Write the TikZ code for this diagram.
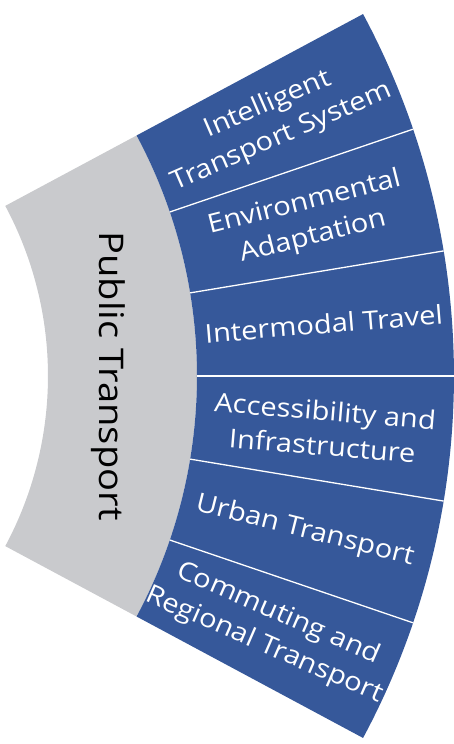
\documentclass[tikz,border=0pt]{standalone}
\usepackage{fontspec}
\setmainfont[FakeStretch=1.12]{Open Sans}
\definecolor{ptblue}{RGB}{54,88,154}
\definecolor{ptgray}{RGB}{201,202,205}
\tikzset{
  field/.style={text=white, align=center, font=\fontsize{26}{35}\selectfont},
  divider/.style={draw=white, line width=1.3pt}
}
\begin{document}
\begin{tikzpicture}[x=1pt,y=1pt]
\useasboundingbox (312,-368) rectangle (766,376);
% inner gray band
\path[fill=ptgray] (28.2:360) arc (28.2:-28.2:360) -- (-28.2:509) arc (-28.2:28.2:509) -- cycle;
% outer blue band
\path[fill=ptblue] (28.2:509) arc (28.2:-28.2:509) -- (-28.2:766) arc (-28.2:28.2:766) -- cycle;
\path[divider] (18.8:509) -- (18.8:766);
\path[divider] (9.4:509) -- (9.4:766);
\path[divider] (0:509) -- (0:766);
\path[divider] (-9.4:509) -- (-9.4:766);
\path[divider] (-18.8:509) -- (-18.8:766);
\node[rotate=-90, font=\fontsize{34}{40}\selectfont] (public) at (0:420) {Public Transport};
\node[field, rotate=23.5] (its) at (23.5:640) {Intelligent\\Transport System};
\node[field, rotate=14.1] (env) at (14.1:640) {Environmental\\Adaptation};
\node[field, rotate=4.7] (inter) at (4.7:638) {Intermodal Travel};
\node[field, rotate=-4.7] (access) at (-4.7:638) {Accessibility and\\Infrastructure};
\node[field, rotate=-14.1] (urban) at (-14.1:636) {Urban Transport};
\node[field, rotate=-23.5] (commute) at (-23.5:636) {Commuting and\\Regional Transport};
\end{tikzpicture}
\end{document}
